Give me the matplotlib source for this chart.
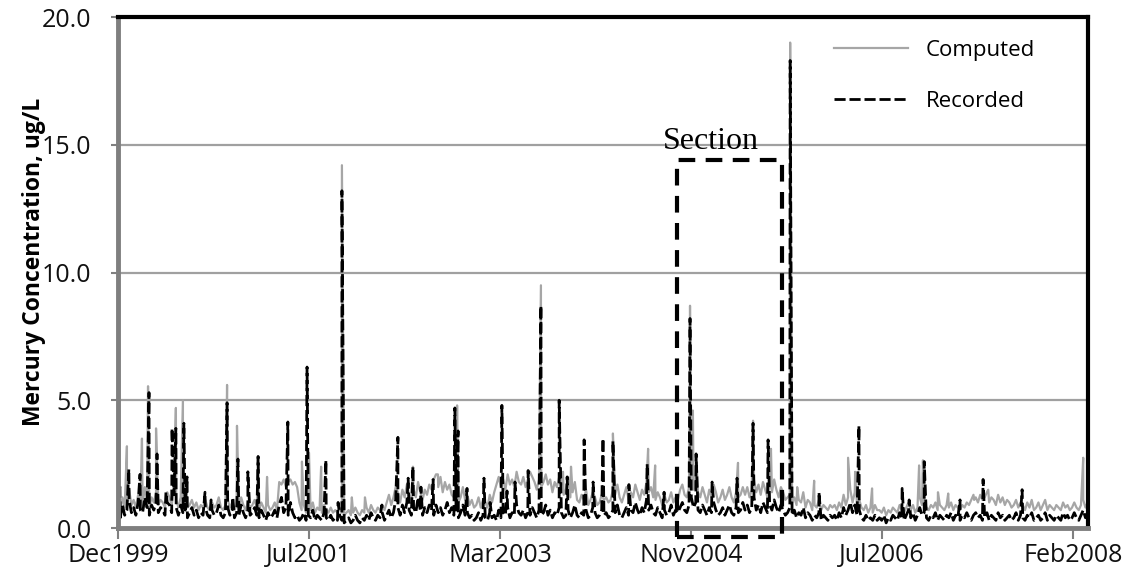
import numpy as np
import pandas as pd
import matplotlib.pyplot as plt
import matplotlib.dates as mdates
from matplotlib.patches import Rectangle

start = pd.Timestamp('1999-12-01')

# weekly background concentrations (ug/L), starting Dec 1999
recorded_weekly = [
    0.6, 0.4, 0.9, 0.5, 0.7, 1.1, 0.6, 0.8, 0.5, 1.0, 0.7, 0.6, 1.2, 0.8, 0.5, 0.9, 0.7, 1.0, 0.6, 0.8,
    0.7, 0.5, 1.0, 0.9, 0.6, 1.3, 0.8, 0.5, 0.9, 0.6, 0.7, 0.4, 0.6, 0.8, 0.5, 0.7, 0.4, 0.6, 0.5, 0.8,
    0.5, 0.4, 0.7, 0.5, 0.6, 0.9, 0.5, 0.4, 0.6, 0.8, 0.5, 0.7, 0.4, 0.6, 0.5, 0.9, 0.6, 0.4, 0.7, 0.5,
    0.6, 0.8, 0.5, 0.4, 0.7, 0.5, 0.3, 0.6, 0.4, 0.5, 0.7, 0.4, 0.9, 1.2, 0.6, 0.8, 0.5, 1.0, 0.6, 0.4,
    0.5, 0.3, 0.4, 0.6, 0.3, 0.5, 0.4, 0.7, 0.3, 0.5, 0.4, 0.3, 0.6, 0.4, 0.3, 0.5, 0.3, 0.4, 0.3, 0.5,
    0.3, 0.2, 0.3, 0.4, 0.2, 0.3, 0.5, 0.3, 0.2, 0.4, 0.3, 0.5, 0.3, 0.6, 0.4, 0.3, 0.5, 0.4, 0.6, 0.3,
    0.5, 0.7, 0.4, 0.6, 1.1, 0.8, 0.5, 0.9, 0.6, 1.0, 0.7, 0.5, 0.8, 0.6, 1.2, 0.7, 0.5, 0.8, 0.6, 0.9,
    0.7, 0.5, 0.9, 0.6, 0.8, 0.5, 0.7, 1.0, 0.6, 0.8, 0.5, 0.7, 0.4, 0.6, 0.9, 0.5, 0.6, 0.4, 0.5, 0.3,
    0.4, 0.6, 0.3, 0.5, 0.4, 0.3, 0.6, 0.4, 0.5, 0.3, 0.7, 0.4, 0.6, 0.5, 0.8, 0.4, 0.6, 0.5, 0.9, 0.6,
    0.5, 0.7, 0.4, 0.6, 0.5, 0.8, 0.6, 0.4, 0.7, 0.5, 0.6, 0.9, 0.5, 0.7, 0.4, 0.6, 0.5, 0.8, 0.6, 0.4,
    0.5, 0.7, 0.4, 0.6, 0.9, 0.5, 0.4, 0.6, 0.5, 0.7, 0.4, 0.5, 0.8, 0.6, 0.4, 0.5, 0.7, 0.5, 0.6, 0.4,
    0.5, 0.7, 0.6, 0.9, 0.5, 0.4, 0.6, 0.8, 0.5, 0.7, 0.6, 1.0, 0.7, 0.5, 0.8, 0.6, 1.1, 0.7, 0.9, 0.6,
    0.5, 0.8, 0.6, 0.4, 0.7, 0.5, 0.6, 0.9, 0.5, 0.7, 0.6, 0.8, 1.0, 0.7, 0.6, 0.9, 1.2, 0.8, 1.0, 0.7,
    0.6, 0.9, 0.7, 0.5, 0.8, 0.6, 1.0, 0.7, 0.5, 0.6, 0.8, 0.5, 0.7, 0.9, 0.6, 0.5, 0.8, 0.6, 0.7, 1.0,
    0.7, 0.9, 0.6, 0.8, 1.2, 0.7, 0.9, 0.6, 1.0, 0.8, 0.6, 0.9, 0.7, 1.1, 0.8, 0.6, 0.9, 0.7, 0.5, 0.6,
    0.8, 0.5, 0.7, 0.4, 0.6, 0.5, 0.8, 0.4, 0.6, 0.5, 0.3, 0.5, 0.4, 0.6, 0.3, 0.5, 0.4, 0.3, 0.5, 0.4,
    0.5, 0.3, 0.6, 0.4, 0.8, 0.5, 0.7, 1.0, 0.6, 0.9, 0.5, 0.7, 0.4, 0.3, 0.5, 0.3, 0.4, 0.3, 0.5, 0.3,
    0.4, 0.3, 0.5, 0.2, 0.4, 0.3, 0.5, 0.4, 0.3, 0.6, 0.4, 0.3, 0.5, 0.7, 0.4, 0.6, 0.3, 0.5, 0.8, 0.5,
    0.6, 0.4, 0.3, 0.5, 0.4, 0.6, 0.3, 0.5, 0.4, 0.3, 0.5, 0.4, 0.6, 0.3, 0.5, 0.4, 0.3, 0.5, 0.4, 0.6,
    0.4, 0.3, 0.5, 0.6, 0.4, 0.5, 0.3, 0.4, 0.6, 0.3, 0.5, 0.4, 0.3, 0.6, 0.4, 0.5, 0.3, 0.4, 0.5, 0.3,
    0.4, 0.6, 0.3, 0.5, 0.4, 0.3, 0.5, 0.4, 0.6, 0.3, 0.4, 0.5, 0.3, 0.4, 0.6, 0.3, 0.5, 0.4, 0.3, 0.5,
    0.4, 0.3, 0.6, 0.4, 0.5, 0.3, 0.4, 0.6, 0.4, 0.3, 0.5, 0.7, 0.4, 0.6,
]

computed_weekly = [
    0.9, 0.7, 1.2, 0.8, 1.0, 1.5, 0.9, 1.1, 0.8, 1.3, 1.0, 0.9, 1.6, 1.1, 0.8, 1.2, 1.0, 1.4, 0.9, 1.1,
    1.0, 0.8, 1.4, 1.2, 0.9, 1.6, 1.1, 0.8, 1.2, 0.9, 1.0, 0.8, 0.9, 1.1, 0.8, 1.0, 0.7, 0.9, 0.8, 1.1,
    0.8, 0.7, 1.0, 0.8, 0.9, 1.2, 0.8, 0.7, 0.9, 1.1, 0.8, 1.0, 0.7, 0.9, 0.8, 1.2, 0.9, 0.7, 1.0, 0.8,
    0.9, 1.1, 0.8, 0.7, 1.0, 0.8, 0.6, 0.9, 0.7, 0.8, 1.0, 0.7, 1.8, 1.7, 1.9, 1.6, 1.8, 1.9, 1.7, 1.8,
    1.6, 1.0, 0.7, 0.9, 0.6, 0.8, 0.7, 1.0, 0.6, 0.8, 0.7, 0.6, 0.9, 0.7, 0.6, 0.8, 0.6, 0.7, 0.6, 0.8,
    0.6, 0.5, 0.6, 0.7, 0.5, 0.6, 0.8, 0.6, 0.5, 0.7, 0.6, 0.8, 0.6, 0.9, 0.7, 0.6, 0.8, 0.7, 0.9, 0.7,
    1.0, 1.3, 0.9, 1.2, 1.6, 1.4, 1.0, 1.5, 1.2, 1.7, 1.3, 1.1, 1.5, 1.2, 1.8, 1.4, 1.1, 1.5, 1.3, 1.7,
    1.5, 1.9, 2.1, 1.6, 2.0, 1.4, 1.8, 1.5, 1.7, 1.3, 1.2, 1.5, 1.0, 1.2, 1.6, 1.1, 1.3, 0.9, 1.1, 0.8,
    0.9, 1.2, 0.8, 1.1, 1.0, 0.8, 1.3, 1.0, 1.4, 1.7, 2.0, 1.6, 1.9, 1.5, 2.1, 1.7, 1.9, 1.6, 2.2, 1.8,
    1.7, 2.0, 1.6, 1.9, 2.2, 2.0, 1.8, 1.5, 1.9, 1.6, 1.8, 2.1, 1.7, 1.9, 1.4, 1.8, 1.6, 2.0, 1.7, 1.3,
    1.5, 2.0, 1.2, 1.4, 1.8, 1.1, 1.0, 1.3, 1.1, 1.5, 0.9, 1.1, 1.4, 1.2, 0.9, 1.0, 1.3, 1.1, 1.2, 1.0,
    1.1, 1.5, 1.3, 1.7, 1.2, 1.0, 1.3, 1.6, 1.1, 1.4, 1.2, 1.7, 1.4, 1.1, 1.5, 1.3, 1.8, 1.4, 1.6, 1.2,
    1.1, 1.4, 1.2, 0.9, 1.3, 1.0, 1.1, 1.4, 1.0, 1.2, 1.1, 1.5, 1.7, 1.3, 1.2, 1.6, 1.9, 1.5, 1.8, 1.4,
    1.2, 1.6, 1.3, 1.0, 1.5, 1.2, 1.7, 1.4, 1.0, 1.2, 1.5, 1.1, 1.3, 1.6, 1.2, 1.0, 1.4, 1.2, 1.3, 1.6,
    1.3, 1.6, 1.2, 1.5, 1.9, 1.4, 1.7, 1.3, 1.8, 1.5, 1.2, 1.6, 1.4, 1.9, 1.5, 1.2, 1.6, 1.4, 1.1, 1.2,
    1.3, 1.0, 1.2, 0.9, 1.1, 1.0, 1.4, 0.8, 1.1, 1.0, 0.7, 0.9, 0.8, 1.1, 0.7, 0.9, 0.8, 0.7, 0.9, 0.8,
    0.9, 0.7, 1.0, 0.8, 1.3, 0.9, 1.2, 1.5, 1.0, 1.4, 0.9, 1.1, 0.8, 0.7, 0.9, 0.6, 0.8, 0.6, 0.9, 0.7,
    0.7, 0.6, 0.8, 0.5, 0.7, 0.6, 0.8, 0.7, 0.6, 0.9, 0.7, 0.6, 0.8, 1.0, 0.7, 0.9, 0.6, 0.8, 1.2, 0.9,
    1.0, 0.8, 0.7, 0.9, 0.8, 1.0, 0.7, 0.9, 0.8, 0.7, 0.9, 0.8, 1.0, 0.7, 0.9, 0.8, 0.7, 0.9, 0.8, 1.0,
    0.9, 1.1, 1.3, 1.2, 1.0, 1.3, 1.1, 1.2, 1.4, 1.0, 1.2, 1.1, 0.9, 1.3, 1.0, 1.2, 0.9, 1.1, 1.0, 0.8,
    0.9, 1.1, 0.8, 1.0, 0.9, 0.7, 1.0, 0.8, 1.1, 0.7, 0.8, 1.0, 0.7, 0.9, 1.1, 0.7, 0.9, 0.8, 0.7, 0.9,
    0.8, 0.7, 1.0, 0.8, 0.9, 0.7, 0.8, 1.0, 0.8, 0.7, 0.9, 1.1, 0.8, 1.0,
]

# storm-event peaks (date, ug/L)
computed_peaks = [
    ('1999-12-29', 3.2), ('2000-02-14', 3.5), ('2000-03-04', 5.55), ('2000-03-29', 3.9),
    ('2000-05-30', 4.7), ('2000-06-21', 5.0), ('2000-11-06', 5.6), ('2000-12-07', 4.0),
    ('2001-02-11', 2.8), ('2001-03-11', 2.0), ('2001-06-28', 2.6), ('2001-07-20', 2.95),
    ('2001-08-27', 2.4), ('2001-10-31', 14.2), ('2001-12-01', 1.2), ('2002-01-11', 1.2),
    ('2002-06-10', 2.4), ('2002-08-27', 2.1), ('2002-10-26', 4.8), ('2003-07-15', 9.5),
    ('2003-09-22', 2.2), ('2003-10-17', 2.4), ('2004-02-25', 3.7), ('2004-06-14', 3.1),
    ('2004-07-06', 2.45), ('2004-10-23', 8.7), ('2004-11-01', 4.6), ('2004-11-11', 2.9),
    ('2005-03-22', 2.55), ('2005-05-08', 4.2), ('2005-07-03', 3.1), ('2005-09-01', 19.0),
    ('2005-09-23', 1.6), ('2005-11-15', 1.85), ('2006-03-01', 2.75), ('2006-03-23', 2.2),
    ('2006-05-15', 1.55), ('2006-10-09', 2.45), ('2006-10-21', 2.65), ('2006-12-07', 1.4),
    ('2007-01-08', 1.35), ('2007-03-30', 1.1), ('2007-05-13', 1.5), ('2008-03-05', 2.75),
]

recorded_peaks = [
    ('1999-12-07', 1.7), ('2000-01-04', 2.3), ('2000-02-08', 2.1), ('2000-03-07', 5.3),
    ('2000-04-01', 2.9), ('2000-04-29', 1.4), ('2000-05-18', 3.9), ('2000-05-30', 3.9),
    ('2000-06-24', 4.1), ('2000-07-04', 2.0), ('2000-08-29', 1.4), ('2000-09-17', 1.1),
    ('2000-11-06', 4.9), ('2000-11-24', 1.2), ('2000-12-10', 2.7), ('2001-01-10', 2.2),
    ('2001-02-11', 2.8), ('2001-05-15', 4.15), ('2001-07-14', 6.3), ('2001-09-11', 2.65),
    ('2001-10-19', 1.0), ('2001-10-31', 13.2), ('2002-03-05', 0.9), ('2002-04-24', 3.55),
    ('2002-05-26', 1.95), ('2002-06-10', 2.4), ('2002-07-05', 1.6), ('2002-08-12', 1.9),
    ('2002-10-19', 4.7), ('2002-10-29', 3.8), ('2002-11-26', 1.55), ('2003-01-18', 1.95),
    ('2003-02-06', 1.0), ('2003-03-15', 4.8), ('2003-03-31', 1.45), ('2003-04-25', 1.8),
    ('2003-06-05', 2.25), ('2003-07-15', 8.7), ('2003-09-10', 5.0), ('2003-10-05', 2.0),
    ('2003-11-27', 3.45), ('2003-12-25', 1.8), ('2004-01-25', 3.5), ('2004-02-25', 3.4),
    ('2004-04-15', 1.7), ('2004-06-11', 2.5), ('2004-08-03', 1.4), ('2004-10-23', 8.2),
    ('2004-11-11', 2.9), ('2004-12-31', 1.8), ('2005-03-19', 1.95), ('2005-05-08', 4.1),
    ('2005-06-24', 3.45), ('2005-09-01', 18.3), ('2005-11-30', 1.4), ('2006-04-04', 4.0),
    ('2006-08-17', 1.55), ('2006-09-08', 1.1), ('2006-10-25', 2.6), ('2007-02-14', 1.1),
    ('2007-04-27', 1.9), ('2007-08-27', 1.5),
]

tick_labels = ['Dec1999', 'Jul2001', 'Mar2003', 'Nov2004', 'Jul2006', 'Feb2008']


def build_series(weekly, peaks):
    base = pd.Series(weekly, index=pd.date_range(start, periods=len(weekly), freq='7D'))
    extra = pd.Series([v for d, v in peaks], index=pd.to_datetime([d for d, v in peaks]))
    return pd.concat([base, extra]).sort_index()


computed = build_series(computed_weekly, computed_peaks)
recorded = build_series(recorded_weekly, recorded_peaks)

fig = plt.figure(figsize=(11.31, 5.77), dpi=100)
ax = fig.add_axes([0.1043, 0.0849, 0.8577, 0.8856])

ax.plot(computed.index, computed.values, color='#a6a6a6', lw=1.6, label='Computed')
ax.plot(recorded.index, recorded.values, color='black', lw=2.0,
        linestyle=(0, (4, 1.4)), label='Recorded')

ax.set_ylim(0, 20)
ax.set_yticks([0, 5, 10, 15, 20])
ax.set_yticklabels(['0.0', '5.0', '10.0', '15.0', '20.0'])
ax.yaxis.grid(True, color='#a0a0a0', lw=1.6)
ax.set_axisbelow(True)

ticks = [start + pd.Timedelta(days=597 * k) for k in range(6)]
ax.set_xlim(start, start + pd.Timedelta(days=3032))
ax.set_xticks(ticks)
ax.set_xticklabels(tick_labels)

ax.tick_params(axis='both', labelsize=18, colors='#808080', labelcolor='#111111')
ax.tick_params(axis='x', length=8, width=1.5, pad=3)
ax.tick_params(axis='y', length=5, width=1.5, pad=14)
for lab in ax.get_xticklabels() + ax.get_yticklabels():
    lab.set_fontfamily('Open Sans')

ax.set_ylabel('Mercury Concentration, ug/L', fontsize=16.5, fontweight='bold',
              fontfamily='Open Sans')
ax.yaxis.set_label_coords(-0.074, 0.52)

ax.spines['left'].set_color('#7f7f7f')
ax.spines['left'].set_linewidth(3.5)
ax.spines['bottom'].set_color('#7f7f7f')
ax.spines['bottom'].set_linewidth(3.5)
ax.spines['top'].set_color('black')
ax.spines['top'].set_linewidth(3)
ax.spines['right'].set_color('black')
ax.spines['right'].set_linewidth(3)

# highlighted section
left = mdates.date2num(pd.Timestamp('2004-09-12'))
right = mdates.date2num(pd.Timestamp('2005-08-07'))
ax.add_patch(Rectangle((left, -0.35), right - left, 14.75, fill=False,
                       edgecolor='black', lw=3, linestyle=(0, (4, 2.5)),
                       clip_on=False, zorder=5))
ax.text(pd.Timestamp('2004-12-28'), 14.85, 'Section', fontsize=23,
        fontfamily='Liberation Serif', ha='center', va='baseline')

leg = ax.legend(loc='upper left', bbox_to_anchor=(0.718, 0.995), frameon=False,
                handlelength=3.3, labelspacing=1.35, prop={'family': 'Open Sans', 'size': 16})

fig.savefig('out.png', dpi=100)
